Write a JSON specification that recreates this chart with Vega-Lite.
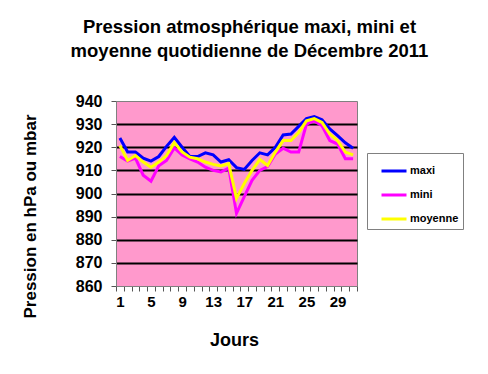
{
  "$schema": "https://vega.github.io/schema/vega-lite/v6.json",
  "width": 241,
  "height": 185,
  "autosize": {"type": "none"},
  "padding": {"left": 116, "top": 101, "right": 131, "bottom": 88},
  "background": "white",
  "title": {
    "text": ["Pression atmosphérique maxi, mini et", "moyenne quotidienne de Décembre 2011"],
    "font": "Liberation Sans",
    "fontSize": 18.5,
    "fontWeight": "bold",
    "color": "black",
    "anchor": "middle",
    "lineHeight": 24,
    "offset": 33,
    "dx": 13
  },
  "data": {
    "values": [
      {"jour": 1, "maxi": 924, "mini": 916, "moyenne": 920.7},
      {"jour": 2, "maxi": 918, "mini": 914, "moyenne": 914.3},
      {"jour": 3, "maxi": 918, "mini": 915.3, "moyenne": 916.4},
      {"jour": 4, "maxi": 915.3, "mini": 907.9, "moyenne": 913.6},
      {"jour": 5, "maxi": 914, "mini": 905.3, "moyenne": 911.4},
      {"jour": 6, "maxi": 916, "mini": 912, "moyenne": 913.6},
      {"jour": 7, "maxi": 920.4, "mini": 914.3, "moyenne": 916.4},
      {"jour": 8, "maxi": 924.3, "mini": 919.7, "moyenne": 922},
      {"jour": 9, "maxi": 920, "mini": 916.7, "moyenne": 918},
      {"jour": 10, "maxi": 916, "mini": 915, "moyenne": 915.7},
      {"jour": 11, "maxi": 916, "mini": 913.6, "moyenne": 915},
      {"jour": 12, "maxi": 917.6, "mini": 911.4, "moyenne": 913.6},
      {"jour": 13, "maxi": 916.7, "mini": 910, "moyenne": 912.6},
      {"jour": 14, "maxi": 913.6, "mini": 909.3, "moyenne": 911.9},
      {"jour": 15, "maxi": 914.6, "mini": 911, "moyenne": 912.9},
      {"jour": 16, "maxi": 911.2, "mini": 891.4, "moyenne": 897.9},
      {"jour": 17, "maxi": 910.4, "mini": 898.6, "moyenne": 904.3},
      {"jour": 18, "maxi": 914.3, "mini": 905.7, "moyenne": 910},
      {"jour": 19, "maxi": 917.6, "mini": 910, "moyenne": 914.7},
      {"jour": 20, "maxi": 916.7, "mini": 911.6, "moyenne": 912.1},
      {"jour": 21, "maxi": 920, "mini": 917.1, "moyenne": 917.9},
      {"jour": 22, "maxi": 925.3, "mini": 919.6, "moyenne": 922.9},
      {"jour": 23, "maxi": 925.7, "mini": 917.9, "moyenne": 922.9},
      {"jour": 24, "maxi": 929, "mini": 917.9, "moyenne": 926.4},
      {"jour": 25, "maxi": 932.4, "mini": 930, "moyenne": 931.4},
      {"jour": 26, "maxi": 933.3, "mini": 931.4, "moyenne": 932.4},
      {"jour": 27, "maxi": 931.9, "mini": 929.3, "moyenne": 930.7},
      {"jour": 28, "maxi": 927.9, "mini": 922.9, "moyenne": 925.7},
      {"jour": 29, "maxi": 925, "mini": 921.4, "moyenne": 922.9},
      {"jour": 30, "maxi": 921.9, "mini": 915, "moyenne": 917.9},
      {"jour": 31, "maxi": 919.6, "mini": 915, "moyenne": 916.7}
    ]
  },
  "transform": [{"fold": ["maxi", "mini", "moyenne"], "as": ["serie", "p"]}],
  "mark": {"type": "line", "strokeWidth": 3, "clip": true},
  "encoding": {
    "x": {
      "field": "jour",
      "type": "quantitative",
      "scale": {"domain": [0.5, 31.5], "nice": false, "zero": false},
      "axis": {
        "values": [0.5, 1, 1.5, 2.5, 3.5, 4.5, 5, 5.5, 6.5, 7.5, 8.5, 9, 9.5, 10.5, 11.5, 12.5, 13, 13.5, 14.5, 15.5, 16.5, 17, 17.5, 18.5, 19.5, 20.5, 21, 21.5, 22.5, 23.5, 24.5, 25, 25.5, 26.5, 27.5, 28.5, 29, 29.5, 30.5, 31.5],
        "labelExpr": "datum.value % 1 == 0 ? datum.label : ''",
        "labelOverlap": false,
        "labelFlush": false,
        "tickOpacity": {"condition": {"test": "datum.value % 1 == 0", "value": 0}, "value": 1},
        "tickSize": 5,
        "tickColor": "#555555",
        "domainColor": "#808080",
        "grid": false,
        "labelFont": "Liberation Sans",
        "labelFontSize": 15,
        "labelFontWeight": "bold",
        "labelColor": "black",
        "labelPadding": 3,
        "title": "Jours",
        "titleFont": "Liberation Sans",
        "titleFontSize": 18,
        "titleFontWeight": "bold",
        "titleColor": "black",
        "titleX": 118,
        "titleY": 59,
        "titleAlign": "center",
        "titleBaseline": "alphabetic"
      }
    },
    "y": {
      "field": "p",
      "type": "quantitative",
      "scale": {"domain": [860, 940], "nice": false, "zero": false},
      "axis": {
        "values": [860, 870, 880, 890, 900, 910, 920, 930, 940],
        "grid": true,
        "gridColor": "black",
        "gridWidth": 2,
        "gridOpacity": {"condition": {"test": "datum.value == 860 || datum.value == 940", "value": 0}, "value": 1},
        "tickSize": 5,
        "tickColor": "#555555",
        "domainColor": "#808080",
        "labelFont": "Liberation Sans",
        "labelFontSize": 16,
        "labelFontWeight": "bold",
        "labelColor": "black",
        "labelPadding": 9,
        "title": "Pression en hPa ou mbar",
        "titleFont": "Liberation Sans",
        "titleFontSize": 17,
        "titleFontWeight": "bold",
        "titleColor": "black",
        "titleAngle": 270,
        "titleX": -81,
        "titleY": 115,
        "titleAlign": "center",
        "titleBaseline": "alphabetic"
      }
    },
    "color": {
      "field": "serie",
      "type": "nominal",
      "scale": {"domain": ["maxi", "mini", "moyenne"], "range": ["#0000FF", "#FF00FF", "#FFFF00"]},
      "legend": {
        "title": null,
        "orient": "none",
        "legendX": 251,
        "legendY": 52,
        "symbolType": "stroke",
        "symbolSize": 625,
        "symbolStrokeWidth": 3,
        "symbolOffset": 9,
        "rowPadding": 4,
        "padding": 4,
        "labelOffset": 2,
        "labelFont": "Liberation Sans",
        "labelFontSize": 11,
        "labelFontWeight": "bold",
        "labelColor": "black",
        "fillColor": "white",
        "strokeColor": "#808080"
      }
    }
  },
  "config": {
    "view": {"fill": "#FF99CC", "stroke": "#808080", "strokeWidth": 1}
  }
}
